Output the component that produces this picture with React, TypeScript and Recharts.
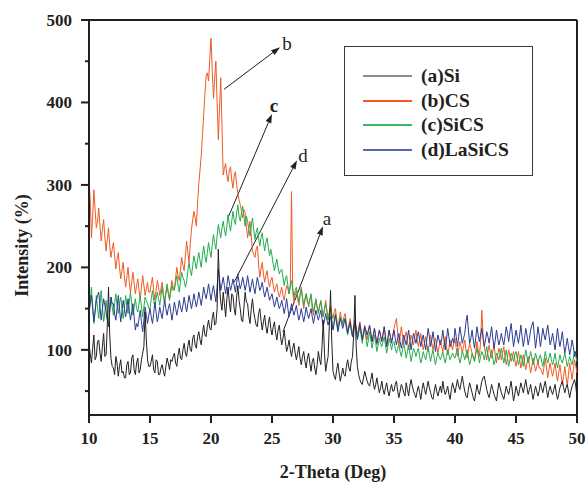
import React from 'react';
import { LineChart, Line, XAxis, YAxis, ReferenceLine, Legend } from 'recharts';

// 2-theta sampling grid (deg), 10 .. 50 every 0.1
const twoTheta: number[] = Array.from({ length: 401 }, (_, i) => Math.round((10 + i * 0.1) * 10) / 10);

// (a) Si  — one row per degree (10.0 .. 10.9, 11.0 .. 11.9, ...)
const siValues: number[] = [
  108, 95, 84, 102, 118, 88, 92, 110, 112, 96,
  86, 104, 120, 92, 94, 130, 176, 118, 90, 80,
  78, 70, 92, 84, 68, 80, 88, 72, 74, 66,
  66, 82, 86, 70, 72, 90, 94, 76, 70, 84,
  90, 72, 76, 88, 96, 104, 146, 112, 88, 80,
  80, 86, 94, 76, 72, 88, 86, 70, 70, 78,
  82, 74, 68, 80, 90, 84, 76, 88, 86, 92,
  96, 84, 80, 94, 102, 90, 88, 100, 108, 96,
  92, 104, 112, 100, 98, 114, 118, 106, 102, 116,
  122, 112, 106, 120, 130, 118, 116, 128, 136, 126,
  124, 138, 146, 130, 132, 150, 222, 176, 158, 148,
  170, 156, 140, 162, 176, 158, 146, 168, 166, 150,
  142, 164, 178, 160, 150, 136, 134, 152, 170, 158,
  156, 140, 132, 150, 162, 146, 138, 130, 128, 144,
  150, 136, 124, 134, 142, 128, 120, 132, 140, 126,
  118, 128, 134, 120, 112, 124, 130, 116, 106, 114,
  124, 110, 98, 104, 112, 100, 92, 102, 108, 96,
  88, 96, 104, 90, 82, 92, 98, 86, 78, 90,
  96, 84, 74, 86, 90, 78, 70, 82, 98, 88,
  82, 104, 136, 96, 74, 84, 92, 130, 172, 110,
  74, 68, 64, 76, 84, 72, 62, 70, 78, 70,
  68, 80, 88, 78, 74, 86, 92, 120, 166, 104,
  80, 70, 64, 60, 58, 66, 74, 68, 62, 58,
  56, 64, 72, 60, 52, 58, 66, 56, 48, 54,
  62, 52, 46, 54, 60, 50, 44, 52, 58, 50,
  50, 58, 62, 50, 42, 50, 58, 54, 48, 44,
  60, 52, 44, 56, 64, 56, 50, 46, 42, 50,
  56, 48, 40, 52, 60, 52, 46, 54, 62, 54,
  48, 42, 40, 50, 58, 50, 44, 50, 56, 48,
  62, 52, 46, 50, 56, 46, 40, 52, 60, 54,
  48, 56, 64, 56, 52, 60, 68, 58, 50, 44,
  42, 52, 60, 54, 48, 42, 38, 48, 58, 50,
  46, 54, 62, 66, 68, 60, 52, 46, 42, 50,
  58, 52, 46, 42, 38, 50, 60, 54, 48, 44,
  40, 48, 56, 50, 46, 54, 62, 50, 38, 46,
  56, 50, 44, 52, 60, 54, 48, 56, 64, 54,
  46, 52, 58, 48, 40, 48, 56, 50, 44, 50,
  60, 54, 48, 56, 62, 52, 42, 50, 56, 50,
  46, 52, 58, 48, 40, 46, 54, 58, 62, 54,
  48, 54, 58, 50, 42, 50, 56, 60, 64, 56,
  42,
];

// (b) CS
const csValues: number[] = [
  305, 282, 236, 262, 294, 270, 248, 256, 272, 250,
  232, 246, 258, 236, 220, 234, 248, 226, 212, 222,
  230, 214, 198, 210, 218, 200, 186, 196, 206, 190,
  176, 188, 200, 182, 170, 182, 194, 180, 168, 178,
  186, 172, 162, 176, 190, 178, 166, 174, 182, 170,
  170, 180, 188, 172, 160, 172, 184, 176, 166, 174,
  182, 168, 158, 170, 176, 168, 162, 174, 184, 176,
  172, 188, 200, 190, 184, 198, 212, 202, 196, 214,
  232, 218, 206, 228, 246, 258, 268, 260, 250, 278,
  302, 318, 336, 360, 385, 410, 432, 436, 426, 452,
  478, 440, 405, 428, 450, 400, 355, 392, 430, 372,
  312, 320, 326, 312, 304, 318, 322, 306, 296, 310,
  316, 300, 290, 282, 276, 268, 260, 270, 266, 250,
  236, 246, 256, 238, 220, 216, 212, 222, 226, 204,
  188, 198, 206, 192, 182, 190, 196, 184, 176, 184,
  188, 178, 170, 176, 180, 170, 164, 170, 176, 166,
  160, 170, 178, 174, 168, 180, 292, 170, 158, 166,
  172, 162, 154, 166, 176, 162, 150, 160, 168, 158,
  156, 162, 164, 150, 142, 152, 160, 152, 146, 154,
  158, 148, 140, 150, 160, 148, 136, 146, 154, 144,
  138, 146, 150, 138, 126, 136, 146, 138, 132, 140,
  144, 132, 122, 130, 138, 128, 120, 128, 136, 126,
  118, 126, 134, 124, 114, 122, 130, 120, 112, 122,
  130, 120, 110, 118, 126, 116, 106, 116, 124, 118,
  112, 120, 128, 116, 104, 114, 124, 116, 110, 118,
  126, 132, 138, 120, 104, 116, 128, 118, 108, 116,
  122, 110, 100, 110, 118, 112, 106, 116, 124, 112,
  104, 112, 120, 108, 100, 108, 116, 106, 98, 108,
  118, 108, 100, 108, 114, 104, 96, 104, 112, 104,
  98, 108, 116, 104, 94, 102, 112, 106, 100, 108,
  114, 102, 92, 100, 110, 104, 96, 104, 112, 100,
  90, 100, 108, 102, 96, 90, 86, 98, 110, 100,
  92, 110, 148, 118, 104, 96, 88, 98, 106, 96,
  90, 98, 106, 94, 84, 94, 102, 96, 88, 96,
  104, 92, 82, 90, 100, 92, 86, 92, 98, 88,
  80, 88, 98, 88, 78, 86, 94, 84, 76, 84,
  92, 82, 72, 80, 90, 82, 74, 80, 88, 78,
  78, 74, 70, 80, 90, 78, 66, 76, 84, 74,
  68, 76, 84, 72, 62, 72, 82, 70, 58, 68,
  80, 68, 56, 70, 84, 74, 64, 76, 88, 80,
  72,
];

// (c) SiCS
const siCsValues: number[] = [
  142, 160, 176, 154, 132, 148, 166, 152, 138, 156,
  172, 152, 134, 146, 160, 144, 130, 148, 164, 152,
  142, 156, 168, 154, 144, 156, 164, 150, 138, 150,
  166, 154, 144, 158, 170, 156, 142, 152, 162, 150,
  146, 156, 166, 152, 140, 152, 164, 160, 156, 150,
  150, 162, 172, 160, 152, 162, 170, 162, 154, 166,
  176, 164, 156, 168, 180, 170, 160, 170, 178, 172,
  174, 182, 190, 178, 170, 184, 194, 188, 184, 176,
  182, 196, 206, 196, 190, 202, 214, 206, 198, 210,
  218, 208, 200, 214, 226, 214, 206, 218, 230, 220,
  212, 226, 240, 230, 222, 238, 252, 244, 236, 248,
  256, 246, 238, 250, 264, 252, 244, 256, 268, 258,
  252, 266, 276, 262, 256, 266, 274, 262, 250, 262,
  256, 246, 238, 250, 260, 246, 234, 242, 248, 236,
  226, 236, 242, 230, 220, 230, 236, 224, 214, 222,
  214, 204, 196, 204, 210, 200, 192, 196, 198, 188,
  178, 186, 190, 178, 168, 176, 184, 174, 164, 172,
  176, 166, 158, 166, 174, 164, 154, 162, 168, 160,
  152, 160, 168, 156, 146, 154, 162, 152, 144, 152,
  160, 150, 140, 148, 156, 146, 136, 144, 150, 138,
  126, 136, 144, 134, 124, 132, 140, 136, 130, 138,
  136, 126, 118, 126, 132, 124, 116, 124, 130, 120,
  112, 120, 128, 118, 108, 118, 126, 114, 104, 112,
  122, 112, 102, 110, 118, 108, 98, 106, 114, 108,
  104, 110, 116, 106, 96, 104, 114, 108, 100, 108,
  110, 102, 96, 102, 106, 98, 92, 100, 108, 100,
  90, 98, 106, 96, 86, 94, 102, 98, 92, 98,
  102, 92, 84, 90, 98, 92, 88, 96, 104, 94,
  86, 94, 100, 90, 82, 90, 96, 92, 88, 92,
  98, 90, 84, 92, 100, 94, 88, 92, 96, 92,
  90, 96, 102, 92, 84, 90, 98, 94, 88, 94,
  100, 90, 82, 88, 96, 92, 86, 94, 102, 94,
  84, 92, 98, 94, 88, 96, 104, 94, 86, 92,
  100, 90, 82, 88, 96, 92, 88, 96, 102, 92,
  84, 92, 100, 90, 80, 88, 96, 92, 86, 94,
  98, 90, 82, 88, 94, 88, 80, 90, 100, 92,
  84, 90, 98, 90, 82, 88, 96, 90, 84, 90,
  94, 86, 80, 88, 98, 90, 84, 90, 96, 88,
  82, 88, 96, 86, 78, 86, 94, 88, 84, 90,
  96, 88, 80, 86, 92, 86, 82, 90, 98, 92,
  86,
];

// (d) LaSiCS
const laSiCsValues: number[] = [
  144, 156, 166, 150, 134, 146, 160, 166, 170, 152,
  136, 150, 162, 154, 146, 136, 128, 146, 164, 156,
  156, 144, 136, 150, 166, 150, 134, 146, 160, 150,
  140, 150, 162, 148, 136, 146, 156, 140, 124, 132,
  128, 138, 148, 134, 122, 136, 152, 142, 132, 142,
  150, 140, 132, 144, 158, 146, 134, 142, 152, 144,
  138, 150, 160, 150, 142, 150, 156, 146, 136, 146,
  158, 150, 142, 150, 160, 152, 146, 154, 164, 154,
  146, 156, 166, 158, 150, 158, 168, 160, 152, 160,
  170, 162, 154, 164, 176, 168, 162, 170, 180, 170,
  160, 170, 178, 168, 158, 176, 198, 186, 172, 180,
  188, 178, 168, 178, 190, 182, 172, 178, 186, 178,
  170, 182, 192, 182, 174, 180, 188, 180, 172, 180,
  190, 180, 170, 178, 186, 176, 168, 178, 188, 180,
  172, 176, 182, 172, 164, 170, 176, 168, 160, 164,
  168, 160, 152, 158, 164, 156, 150, 154, 160, 152,
  144, 152, 162, 150, 140, 148, 156, 148, 142, 148,
  154, 144, 136, 142, 150, 142, 134, 142, 152, 144,
  138, 144, 150, 140, 132, 140, 148, 142, 136, 142,
  148, 138, 128, 136, 144, 136, 130, 136, 140, 132,
  124, 132, 142, 132, 122, 130, 138, 132, 126, 132,
  138, 128, 120, 128, 134, 124, 116, 126, 136, 126,
  114, 122, 132, 122, 112, 120, 128, 124, 118, 124,
  130, 120, 110, 118, 126, 116, 108, 116, 124, 116,
  110, 118, 128, 116, 104, 114, 124, 116, 108, 116,
  124, 114, 106, 114, 120, 110, 102, 110, 118, 112,
  106, 114, 124, 112, 100, 110, 120, 114, 108, 116,
  122, 112, 104, 112, 118, 108, 100, 114, 126, 116,
  104, 112, 122, 110, 98, 108, 118, 112, 106, 112,
  124, 112, 100, 112, 126, 116, 104, 108, 114, 108,
  126, 116, 104, 116, 128, 118, 108, 114, 120, 134,
  142, 124, 108, 114, 124, 112, 102, 114, 128, 118,
  110, 118, 126, 114, 104, 112, 122, 116, 108, 118,
  128, 114, 102, 112, 124, 114, 106, 112, 120, 112,
  106, 116, 128, 120, 110, 122, 132, 118, 104, 114,
  124, 116, 108, 118, 130, 116, 104, 114, 126, 118,
  106, 114, 124, 130, 134, 118, 102, 114, 128, 118,
  104, 114, 126, 118, 112, 122, 130, 118, 106, 112,
  120, 110, 100, 112, 126, 114, 104, 112, 122, 108,
  96, 104, 114, 104, 94, 102, 112, 104, 92, 98,
  96,
];

const seriesNames = ['(a)Si', '(b)CS', '(c)SiCS', '(d)LaSiCS'];
const seriesKeys = ['a', 'b', 'c', 'd'];
const seriesColors = ['#231f20', '#f15a24', '#22ac4b', '#2b3a92'];
const legendColors = ['#8c8c8c', '#f15a24', '#3cb860', '#5866aa'];

const xTicks = [10, 15, 20, 25, 30, 35, 40, 45, 50];
const yTicks = [50, 100, 150, 200, 250, 300, 350, 400, 450, 500];

// annotation arrows: from -> to in data units, with label
const annotations = [
  { label: 'b', bold: false, from: [21.07, 416], to: [25.66, 467] },
  { label: 'c', bold: true, from: [21.39, 260], to: [25.0, 386] },
  { label: 'd', bold: false, from: [21.89, 182], to: [27.05, 330] },
  { label: 'a', bold: false, from: [25.9, 122], to: [29.18, 250] },
];
const labelOffsets: Record<string, [number, number]> = { b: [7, -4], c: [2, -9], d: [6, -5], a: [4, -8] };

const data = twoTheta.map((t, i) => ({
  t,
  a: siValues[i],
  b: csValues[i],
  c: siCsValues[i],
  d: laSiCsValues[i],
}));

const FONT = '"Liberation Serif", "Times New Roman", serif';
const INK = '#231f20';

const YTick = (props: any) => {
  const { x, y, payload } = props;
  const axisX = x + 8 + 9;
  const major = payload.value % 100 === 0;
  return (
    <g>
      <line x1={axisX - (major ? 8 : 4)} x2={axisX} y1={y} y2={y} stroke={INK} strokeWidth={2} />
      {major && (
        <text x={x} y={y} dy="0.35em" textAnchor="end" fontFamily={FONT} fontWeight="bold" fontSize={17} fill={INK}>
          {payload.value}
        </text>
      )}
    </g>
  );
};

const makeArrow = (label: string, bold: boolean) => (props: any) => {
  const { x1, y1, x2, y2 } = props;
  const dx = x2 - x1;
  const dy = y2 - y1;
  const len = Math.sqrt(dx * dx + dy * dy) || 1;
  const ux = dx / len;
  const uy = dy / len;
  const hl = 9;
  const hw = 3;
  const bx = x2 - ux * hl;
  const by = y2 - uy * hl;
  const pts = `${x2},${y2} ${bx - uy * hw},${by + ux * hw} ${bx + uy * hw},${by - ux * hw}`;
  const off = labelOffsets[label];
  return (
    <g>
      <line x1={x1} y1={y1} x2={bx} y2={by} stroke={INK} strokeWidth={1} />
      <polygon points={pts} fill={INK} />
      <text
        x={x2 + off[0]}
        y={y2 + off[1]}
        dy="0.35em"
        textAnchor="middle"
        fontFamily={FONT}
        fontWeight={bold ? 'bold' : 'normal'}
        fontSize={19}
        fill={INK}
      >
        {label}
      </text>
    </g>
  );
};

const LegendBox = () => (
  <div
    style={{
      width: 187,
      height: 128,
      border: '1px solid #3a3a3a',
      background: '#fff',
      position: 'relative',
      fontFamily: FONT,
      fontWeight: 'bold',
      fontSize: 19.5,
      color: INK,
    }}
  >
    {seriesNames.map((name, i) => (
      <div
        key={name}
        style={{ position: 'absolute', left: 18, top: 19 + i * 24.5, height: 20, display: 'flex', alignItems: 'center' }}
      >
        <div style={{ width: 49, height: 2, backgroundColor: legendColors[i], marginRight: 9 }} />
        <span style={{ lineHeight: '20px', whiteSpace: 'nowrap' }}>{name}</span>
      </div>
    ))}
  </div>
);

const YTitle = (props: any) => {
  const vb = props.viewBox || { x: 0, y: 20, width: 89, height: 395 };
  const cx = vb.x + 22;
  const cy = vb.y + vb.height / 2 + 28;
  return (
    <text
      x={cx}
      y={cy}
      dy="0.35em"
      textAnchor="middle"
      transform={`rotate(-90, ${cx}, ${cy})`}
      fontFamily={FONT}
      fontWeight="bold"
      fontSize={18}
      fill={INK}
    >
      Intensity (%)
    </text>
  );
};

export default function App() {
  return (
    <div style={{ position: 'absolute', left: 0, top: 0, width: 586, height: 484, background: '#fff' }}>
      <LineChart width={586} height={484} data={data} margin={{ top: 20, right: 9, bottom: 0, left: 0 }}>
        <XAxis
          type="number"
          dataKey="t"
          domain={[10, 50]}
          ticks={xTicks}
          interval={0}
          height={69}
          tickSize={8}
          tickMargin={9}
          axisLine={{ stroke: INK, strokeWidth: 2 }}
          tickLine={{ stroke: INK, strokeWidth: 2 }}
          tick={{ fontFamily: FONT, fontWeight: 'bold', fontSize: 17, fill: INK }}
          label={{
            value: '2-Theta (Deg)',
            position: 'insideBottom',
            offset: 6,
            style: { fontFamily: FONT, fontWeight: 'bold', fontSize: 18, fill: INK },
          }}
        />
        <YAxis
          type="number"
          domain={[21, 500]}
          ticks={yTicks}
          interval={0}
          width={89}
          tickSize={8}
          tickMargin={9}
          tickLine={false}
          axisLine={{ stroke: INK, strokeWidth: 2 }}
          tick={<YTick />}
          label={{ content: <YTitle /> } as any}
        />
        <ReferenceLine y={500} stroke={INK} strokeWidth={2} />
        <ReferenceLine x={50} stroke={INK} strokeWidth={2} />
        {annotations.map((an) => (
          <ReferenceLine
            key={an.label}
            segment={[
              { x: an.from[0], y: an.from[1] },
              { x: an.to[0], y: an.to[1] },
            ]}
            ifOverflow="visible"
            shape={makeArrow(an.label, an.bold)}
          />
        ))}
        {[1, 2, 3, 0].map((i) => (
          <Line
            key={seriesKeys[i]}
            type="linear"
            dataKey={seriesKeys[i]}
            name={seriesNames[i]}
            stroke={seriesColors[i]}
            strokeWidth={1}
            dot={false}
            activeDot={false}
            isAnimationActive={false}
          />
        ))}
        <Legend
          layout="vertical"
          align="center"
          verticalAlign="middle"
          wrapperStyle={{ position: 'absolute', left: 344, top: 46, width: 'auto', height: 'auto' }}
          content={<LegendBox />}
        />
      </LineChart>
    </div>
  );
}
